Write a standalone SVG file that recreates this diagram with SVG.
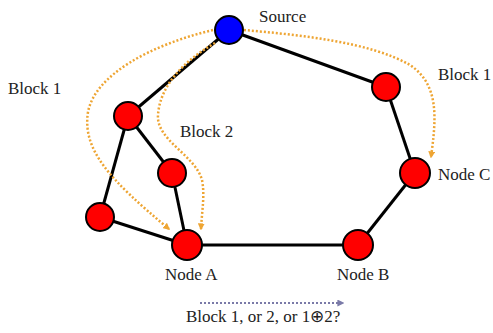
<svg xmlns="http://www.w3.org/2000/svg" width="493" height="333" viewBox="0 0 493 333">
<style>
.edge{stroke:#000;stroke-width:3;fill:none}
.blk{stroke:#eea533;stroke-width:2.5;stroke-dasharray:2 2;fill:none}
.node{fill:#ff0000;stroke:#000;stroke-width:2}
.src{fill:#0000ff;stroke:#000;stroke-width:2}
text{font-family:"Liberation Serif","Times New Roman",serif;font-size:17px;fill:#222}
</style>
<defs>
<marker id="ao" viewBox="0 0 10 10" refX="8" refY="5" markerWidth="7" markerHeight="7" orient="auto" markerUnits="userSpaceOnUse">
<path d="M0,0 L10,5 L0,10 z" fill="#eea533"/>
</marker>
<marker id="ap" viewBox="0 0 10 10" refX="8" refY="5" markerWidth="7" markerHeight="7" orient="auto" markerUnits="userSpaceOnUse">
<path d="M0,0 L10,5 L0,10 z" fill="#7a7aa8"/>
</marker>
</defs>
<g id="connectors">
<line class="edge" x1="229" y1="30" x2="128" y2="116"/>
<line class="edge" x1="229" y1="30" x2="386" y2="87"/>
<line class="edge" x1="128" y1="116" x2="100" y2="217"/>
<line class="edge" x1="128" y1="116" x2="172" y2="173"/>
<line class="edge" x1="172" y1="173" x2="187" y2="245"/>
<line class="edge" x1="100" y1="217" x2="187" y2="245"/>
<line class="edge" x1="187" y1="245" x2="358" y2="245"/>
<line class="edge" x1="358" y1="245" x2="415" y2="173"/>
<line class="edge" x1="415" y1="173" x2="386" y2="87"/>
<path class="blk" d="M213,30 C150,45 95,75 88,112 C82,150 110,180 169,229" marker-end="url(#ao)"/>
<path class="blk" d="M215,43 C185,60 160,85 158,115 C156,140 195,155 202,180 C205,195 202,210 201,229" marker-end="url(#ao)"/>
<path class="blk" d="M244,30 C300,35 370,42 410,65 C440,85 436,120 431,157" marker-end="url(#ao)"/>
<line x1="200" y1="303" x2="343" y2="303" stroke="#7a7aa8" stroke-width="2.2" stroke-dasharray="2 2" marker-end="url(#ap)"/>
</g>
<g id="source"><circle class="src" cx="229" cy="30" r="14"/><text x="259" y="22">Source</text></g>
<g id="n1"><circle class="node" cx="128" cy="116" r="14"/></g>
<g id="n2"><circle class="node" cx="172" cy="173" r="14"/></g>
<g id="n3"><circle class="node" cx="100" cy="217" r="14"/></g>
<g id="nodeA"><circle class="node" cx="187" cy="245" r="15"/><text x="165" y="280">Node A</text></g>
<g id="nodeB"><circle class="node" cx="358" cy="245" r="15"/><text x="337" y="280">Node B</text></g>
<g id="nodeC"><circle class="node" cx="415" cy="173" r="15"/><text x="438" y="180">Node C</text></g>
<g id="n4"><circle class="node" cx="386" cy="87" r="14"/></g>
<g id="labels">
<text x="8" y="94">Block 1</text>
<text x="180" y="137">Block 2</text>
<text x="438" y="80">Block 1</text>
<text x="186" y="322">Block 1, or 2, or 1⊕2?</text>
</g>
</svg>
